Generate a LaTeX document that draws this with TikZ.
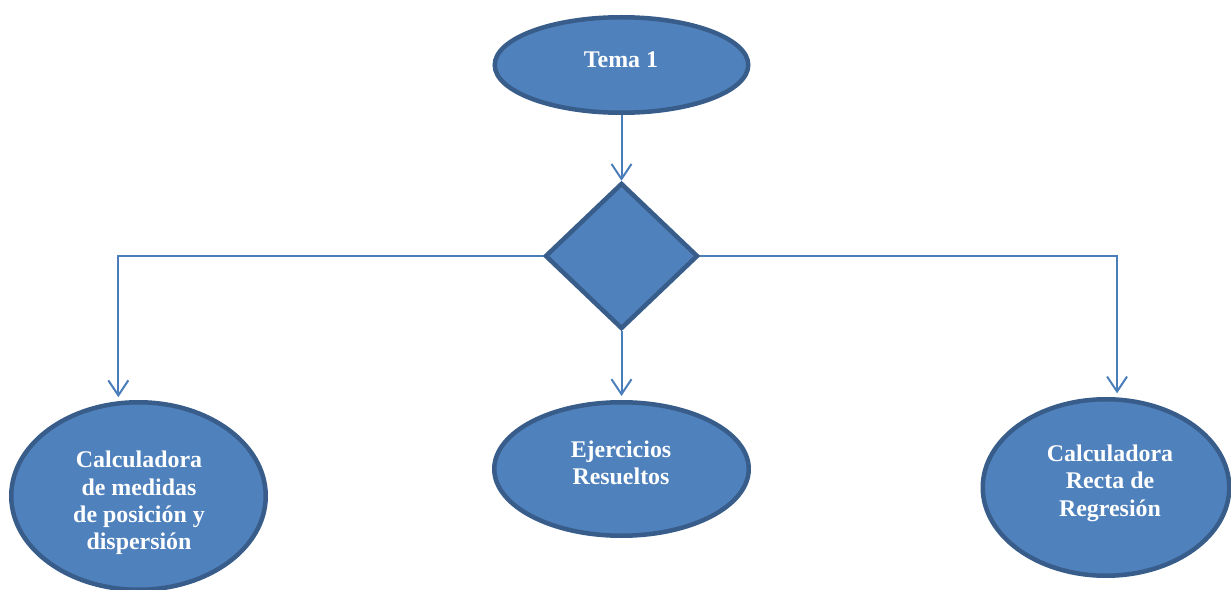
\documentclass[tikz,border=0pt]{standalone}
\usepackage{fontspec}
\setmainfont{Liberation Serif}
\usetikzlibrary{shapes.geometric,arrows.meta}
\definecolor{shapefill}{HTML}{4F81BD}
\definecolor{shapeedge}{HTML}{385D8A}
\definecolor{linkline}{HTML}{4A7EBB}
\tikzset{
  topic/.style={ellipse, draw=shapeedge, fill=shapefill, line width=4.5bp,
                inner sep=0pt},
  topictext/.style={align=center, text=white, inner sep=0pt,
                    font=\bfseries\fontsize{24}{27.5}\selectfont},
  choice/.style={diamond, draw=shapeedge, fill=shapefill, line width=4.5bp,
                 inner sep=0pt, minimum width=153bp, minimum height=146bp},
  link/.style={draw=linkline, line width=2bp,
               -{Straight Barb[length=15bp, width=20bp, line width=2bp]}},
}

\begin{document}
\begin{tikzpicture}[x=1bp, y=-1bp]
    \useasboundingbox (0,0) rectangle (1231,590);
    \node[topic, minimum width=253.5bp, minimum height=95.5bp] (tema) at (621.5, 65) {};
    \node[topictext] (tematxt) at (621, 60) {Tema 1};
    \node[choice] (dec) at (621.5, 256) {};
    \node[topic, minimum width=254.5bp, minimum height=187.5bp] (calcmed) at (138.5, 496) {};
    \node[topictext] (calcmedtxt) at (139, 503)
        {Calculadora\\de medidas\\de posición y\\dispersión};
    \node[topic, minimum width=254.5bp, minimum height=133.5bp] (ejer) at (621.5, 469) {};
    \node[topictext] (ejertxt) at (621, 463) {Ejercicios\\Resueltos};
    \node[topic, minimum width=246.5bp, minimum height=176.5bp] (calcrec) at (1106, 487.5) {};
    \node[topictext] (calcrectxt) at (1110, 483) {Calculadora\\Recta de\\Regresión};
    % connectors
    \draw[link] (tema.south) -- (dec.north);
    \draw[link, shorten >=4bp] (dec.west) -| (calcmed.102.5);
    \draw[link, shorten >=4bp] (dec.south) -- (ejer.north);
    \draw[link, shorten >=4bp] (dec.east) -| (calcrec.83);
\end{tikzpicture}
\end{document}
